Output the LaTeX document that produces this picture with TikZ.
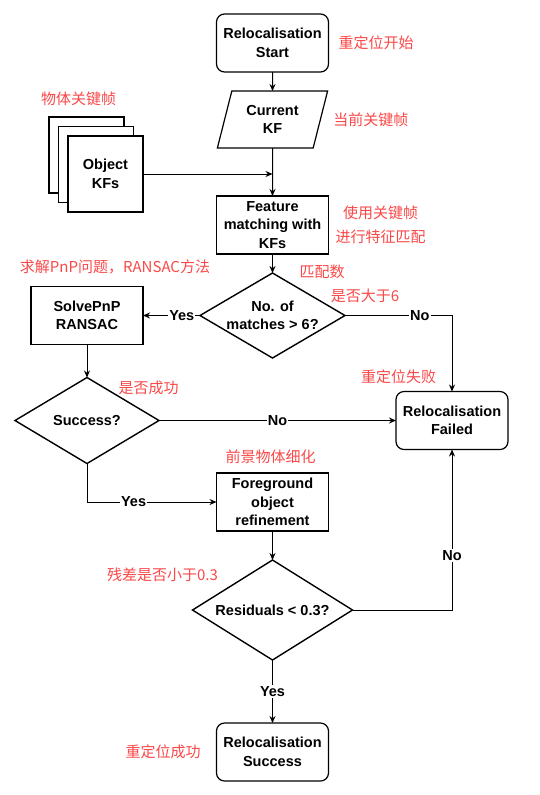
\documentclass[tikz,border=0pt]{standalone}
\usepackage{fontspec}
\setmainfont{Liberation Sans}
\newfontfamily\cjk{Noto Sans CJK SC}
\usetikzlibrary{positioning, shapes.geometric, shadows, arrows.meta}
\definecolor{notered}{RGB}{250,72,72}

\begin{document}
\begin{tikzpicture}[
    x=1pt, y=1pt,
    every node/.style={
      font=\fontsize{14.5}{18.5}\selectfont\bfseries,
      align=center, inner sep=0pt, outer sep=0pt
    },
    box/.style={
      draw=black, line width=1.6pt,
      minimum width=112pt, minimum height=58pt
    },
    term/.style={
      box, rounded corners=8pt, line width=1.2pt
    },
    decide/.style={
      diamond, draw=black, line width=1.4pt, inner sep=-3pt
    },
    io/.style={
      trapezium, trapezium left angle=72, trapezium right angle=108,
      trapezium stretches, draw=black, line width=1.2pt,
      minimum width=111pt, minimum height=57pt
    },
    note/.style={
      font=\fontsize{15}{24}\selectfont\cjk, text=notered
    },
    lbl/.style={
      fill=white, inner sep=1pt
    },
    arr/.style={
      line width=1pt, -{Stealth[length=7pt, width=6pt]}
    }
  ]
  \useasboundingbox (0,0) rectangle (539,-795);

  \node[term] (start) at (272.5,-43) {Relocalisation\\Start};
  \node[io, below=19pt of start] (cur) {Current\\KF};
  \node[box, below=48pt of cur] (feat) {Feature\\matching with\\KFs};
  \node[decide, shape aspect=1.7, minimum width=145pt, minimum height=85pt,
    below=19pt of feat] (nmatch) {No. of\\matches > 6?};
  \node[box, left=57pt of nmatch] (pnp) {SolvePnP\\RANSAC};
  \node[decide, shape aspect=1.67, minimum width=144pt, minimum height=86pt,
    below=33pt of pnp] (succ) {Success?};
  \node[term, right=237pt of succ] (fail) {Relocalisation\\Failed};
  \node[box, below=115pt of nmatch] (fg) {Foreground\\object\\refinement};
  \node[decide, shape aspect=1.6, minimum width=160pt, minimum height=100pt,
    below=29pt of fg] (resid) {Residuals < 0.3?};
  \node[term, below=63pt of resid] (done) {Relocalisation\\Success};
  \node[box, line width=1.2pt, minimum width=75pt, minimum height=76pt, fill=white,
    double copy shadow={shadow xshift=-9.5pt, shadow yshift=9.5pt}]
    (objkf) at (105.5,-174) {Object\\KFs};

  \draw[arr] (start) -- (cur);
  \draw[arr] (cur) -- (feat);
  \draw[arr] (objkf.east) -- (objkf.east -| cur.south);
  \draw[arr] (feat) -- (nmatch);
  \draw[arr] (nmatch) -- node[lbl, pos=0.32] (yes1) {Yes} (pnp);
  \draw[arr] (nmatch.east) -| node[lbl, pos=0.35] (no1) {No} (fail);
  \draw[arr] (pnp) -- (succ);
  \draw[arr] (succ) -- node[lbl] (no2) {No} (fail);
  \draw[arr] (succ.south) |- node[lbl, pos=0.68] (yes2) {Yes} (fg);
  \draw[arr] (fg) -- (resid);
  \draw[arr] (resid.east) -| node[lbl, pos=0.67] (no3) {No} (fail);
  \draw[arr] (resid) -- node[lbl] (yes3) {Yes} (done);

  \node[note, right=10pt of start] (n-start) {重定位开始};
  \node[note, right=13pt of cur] (n-cur) {当前关键帧};
  \node[note] (n-obj) at (78.5,-99) {物体关键帧};
  \node[note, right=7pt of feat] (n-feat) {使用关键帧\\进行特征匹配};
  \node[note] (n-pnp) at (115,-267) {求解PnP问题，RANSAC方法};
  \node[note] (n-match1) at (322,-272) {匹配数};
  \node[note] (n-match2) at (365,-296) {是否大于6};
  \node[note] (n-succ) at (148.5,-388) {是否成功};
  \node[note] (n-fail) at (398.5,-377) {重定位失败};
  \node[note] (n-fg) at (270.5,-457) {前景物体细化};
  \node[note] (n-resid) at (162.5,-575) {残差是否小于0.3};
  \node[note] (n-done) at (163,-752) {重定位成功};
\end{tikzpicture}
\end{document}
